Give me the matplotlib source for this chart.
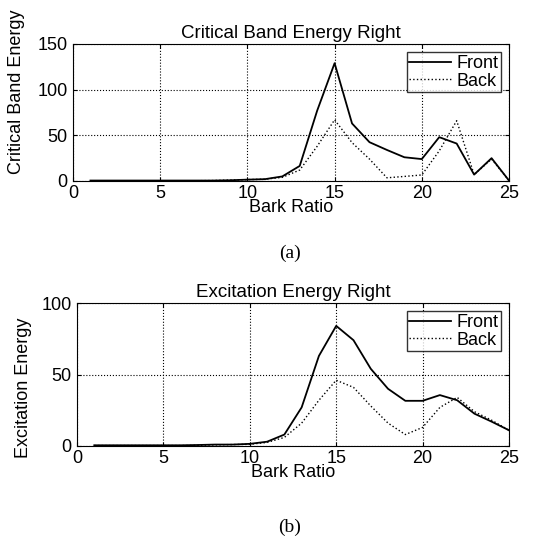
import matplotlib
matplotlib.use("Agg")
import matplotlib.pyplot as plt
import numpy as np

plt.rcParams['font.family'] = ['Liberation Sans', 'DejaVu Sans']

bark = np.arange(1, 26)

# (a) critical band energy
cb_front = [0.5, 0.5, 0.5, 0.5, 0.5, 0.5, 0.5, 0.5, 0.8, 1.5, 2, 5, 16.5, 77, 129,
            63, 42.5, 34, 26, 24, 48, 41, 7, 25, 0.5]
cb_back = [0.2, 0.2, 0.2, 0.2, 0.2, 0.2, 0.3, 0.5, 1, 1.5, 2, 4, 12, 38, 67,
           42, 24, 3.5, 5, 6.6, 33, 66, 7, 24, 0.5]

# (b) excitation energy
ex_front = [0.5, 0.5, 0.5, 0.5, 0.5, 0.5, 0.7, 1, 1, 1.5, 3, 8, 27, 63, 84,
            74, 54, 40, 31.6, 31.6, 35.6, 32, 22.6, 17, 11]
ex_back = [0.3, 0.3, 0.3, 0.3, 0.3, 0.3, 0.5, 0.8, 1, 1.2, 2.5, 6, 16, 32, 46,
           41, 28, 16, 8, 13, 27, 34, 24, 18, 11]

panels = [
    ("Critical Band Energy Right", "Critical Band Energy", cb_front, cb_back,
     [0, 50, 100, 150], "(a)"),
    ("Excitation Energy Right", "Excitation Energy", ex_front, ex_back,
     [0, 50, 100], "(b)"),
]

fig = plt.figure(figsize=(5.44, 5.38), dpi=100)
W, H = 544, 538
boxes = [(73, 44, 509, 181), (77, 303, 509, 446)]
caption_y = [253, 527]
ylabel_pos = [(-0.11, 0.65), (-0.105, 0.41)]

for (title, ylabel, front, back, yticks, cap), (l, t, r, b), cy, ypos in zip(
        panels, boxes, caption_y, ylabel_pos):
    ax = fig.add_axes([l / W, 1 - b / H, (r - l) / W, (b - t) / H])
    ax.plot(bark, front, color='black', lw=1.3, label='Front')
    ax.plot(bark, back, color='black', lw=1.0, ls=':', label='Back')
    ax.set_xlim(0, 25)
    ax.set_ylim(yticks[0], yticks[-1])
    ax.set_xticks([0, 5, 10, 15, 20, 25])
    ax.set_yticks(yticks)
    ax.grid(True, color='black', ls=':', lw=0.8)
    ax.tick_params(direction='in', top=True, right=True, labelsize=13, length=3)
    ax.tick_params(axis='x', pad=3)
    ax.tick_params(axis='y', pad=4)
    for s in ax.spines.values():
        s.set_linewidth(0.8)
    ax.set_title(title, fontsize=13.5, pad=4)
    ax.set_xlabel('Bark Ratio', fontsize=13, labelpad=-2)
    ax.set_ylabel(ylabel, fontsize=13)
    ax.yaxis.set_label_coords(*ypos)
    leg = ax.legend(loc='upper right', fontsize=13, frameon=True, fancybox=False,
                    edgecolor='black', borderpad=0.15, handlelength=2.3,
                    handletextpad=0.3, labelspacing=0.05, borderaxespad=0.45)
    leg.get_frame().set_linewidth(1.0)
    fig.text(290 / W, 1 - cy / H, cap, ha='center', va='center',
             fontsize=14, family='Liberation Serif')

fig.savefig('out.png', dpi=100)
